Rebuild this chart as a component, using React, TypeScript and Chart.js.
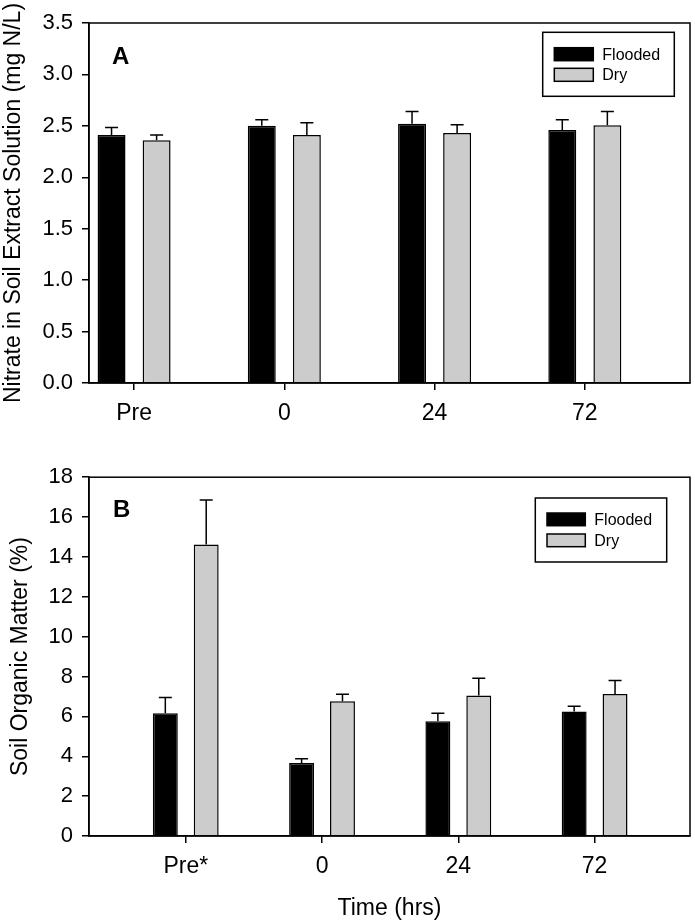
import React, { useEffect, useRef } from 'react';
import { Chart, registerables } from 'chart.js';

Chart.register(...registerables);

// ---- Data ----
const categoriesA = ['Pre', '0', '24', '72'];
const categoriesB = ['Pre*', '0', '24', '72'];
const categoryPositions = [1, 2, 3, 4];
const seriesNames = ['Flooded', 'Dry'];

const nitrateFlooded = [2.41, 2.50, 2.52, 2.46];
const nitrateFloodedErr = [0.075, 0.06, 0.12, 0.10];
const nitrateDry = [2.36, 2.41, 2.43, 2.505];
const nitrateDryErr = [0.05, 0.12, 0.08, 0.135];

const somFlooded = [6.16, 3.66, 5.76, 6.24];
const somFloodedErr = [0.79, 0.21, 0.40, 0.27];
const somDry = [14.62, 6.76, 7.05, 7.13];
const somDryErr = [2.24, 0.35, 0.86, 0.67];

const nitrateTicks = [0, 0.5, 1.0, 1.5, 2.0, 2.5, 3.0, 3.5];
const somTicks = [0, 2, 4, 6, 8, 10, 12, 14, 16, 18];

// ---- Styles ----
const FONT = "'Liberation Sans', Arial, Helvetica, sans-serif";
const FLOOD_COLOR = '#000000';
const DRY_COLOR = '#cccccc';

type PanelSpec = {
  categories: string[];
  flooded: number[];
  floodedErr: number[];
  dry: number[];
  dryErr: number[];
  yTicks: number[];
  yDecimals: number;
  yMax: number;
  xMin: number;
  xMax: number;
  yTitle: string;
  yTitlePad: number;
  xTitle?: string;
  label: string;
  labelX: number;
  labelY: number;
  padTop: number;
  xAxisHeight: number;
  catPct: number;
  barPct: number;
  legend: { x: number; y: number; w: number; h: number; sx: number; sw: number; sh: number; sy: number[]; tx: number };
  width: number;
  height: number;
};

function buildConfig(spec: PanelSpec): any {
  const errPlugin = {
    id: 'errBars',
    afterDatasetsDraw(chart: any) {
      const ctx = chart.ctx;
      const ys = chart.scales.y;
      ctx.save();
      ctx.strokeStyle = '#000';
      ctx.lineWidth = 1.5;
      chart.data.datasets.forEach((ds: any, i: number) => {
        const meta = chart.getDatasetMeta(i);
        meta.data.forEach((el: any, j: number) => {
          const v = ds.data[j].y;
          const e = ds.errors[j];
          const yt = ys.getPixelForValue(v + e);
          ctx.beginPath();
          ctx.moveTo(el.x, el.y);
          ctx.lineTo(el.x, yt);
          ctx.moveTo(el.x - 6.5, yt);
          ctx.lineTo(el.x + 6.5, yt);
          ctx.stroke();
        });
      });
      ctx.restore();
    },
  };

  const framePlugin = {
    id: 'frameLegend',
    afterDraw(chart: any) {
      const ctx = chart.ctx;
      const a = chart.chartArea;
      ctx.save();
      ctx.strokeStyle = '#000';
      ctx.lineWidth = 1.5;
      ctx.strokeRect(a.left, a.top, a.right - a.left, a.bottom - a.top);

      // legend
      const L = spec.legend;
      ctx.lineWidth = 1.5;
      ctx.strokeRect(L.x, L.y, L.w, L.h);
      chart.data.datasets.forEach((ds: any, i: number) => {
        ctx.fillStyle = ds.backgroundColor;
        ctx.fillRect(L.sx, L.sy[i], L.sw, L.sh);
        ctx.strokeStyle = '#000';
        ctx.lineWidth = 1.5;
        ctx.strokeRect(L.sx, L.sy[i], L.sw, L.sh);
        ctx.fillStyle = '#000';
        ctx.font = `16px ${FONT}`;
        ctx.textBaseline = 'middle';
        ctx.textAlign = 'left';
        ctx.fillText(ds.label, L.tx, L.sy[i] + L.sh / 2 + 1);
      });

      // panel label
      ctx.fillStyle = '#000';
      ctx.font = `bold 24px ${FONT}`;
      ctx.textBaseline = 'alphabetic';
      ctx.textAlign = 'left';
      ctx.fillText(spec.label, spec.labelX, spec.labelY);
      ctx.restore();
    },
  };

  const xTickFont = { family: FONT, size: 23 };
  const yTickFont = { family: FONT, size: 22 };
  const titleFont = { family: FONT, size: 23 };

  return {
    type: 'bar',
    data: {
      datasets: [
        {
          label: seriesNames[0],
          data: categoryPositions.map((x, i) => ({ x, y: spec.flooded[i] })),
          errors: spec.floodedErr,
          backgroundColor: FLOOD_COLOR,
          borderColor: '#000',
          borderWidth: 1.5,
          categoryPercentage: spec.catPct,
          barPercentage: spec.barPct,
        },
        {
          label: seriesNames[1],
          data: categoryPositions.map((x, i) => ({ x, y: spec.dry[i] })),
          errors: spec.dryErr,
          backgroundColor: DRY_COLOR,
          borderColor: '#000',
          borderWidth: 1.5,
          categoryPercentage: spec.catPct,
          barPercentage: spec.barPct,
        },
      ],
    },
    options: {
      responsive: false,
      animation: false,
      devicePixelRatio: 1,
      layout: { padding: { top: spec.padTop, right: 5, left: 0, bottom: 0 } },
      plugins: { legend: { display: false }, tooltip: { enabled: false }, title: { display: false } },
      scales: {
        x: {
          type: 'linear',
          min: spec.xMin,
          max: spec.xMax,
          offset: false,
          grid: {
            display: true,
            drawOnChartArea: false,
            drawTicks: true,
            tickLength: 7,
            color: '#000',
            lineWidth: 1.5,
            offset: false,
          },
          border: { display: true, color: '#000', width: 1.5 },
          afterBuildTicks: (s: any) => {
            s.ticks = categoryPositions.map((v) => ({ value: v }));
          },
          ticks: {
            callback: (v: any) => spec.categories[categoryPositions.indexOf(v)],
            color: '#000',
            font: xTickFont,
            padding: 10,
            maxRotation: 0,
            autoSkip: false,
          },
          title: spec.xTitle
            ? { display: true, text: spec.xTitle, color: '#000', font: titleFont, padding: { top: 0, bottom: 2 } }
            : { display: false },
          afterFit: (s: any) => {
            s.height = spec.xAxisHeight;
          },
        },
        y: {
          type: 'linear',
          min: 0,
          max: spec.yMax,
          grid: {
            display: true,
            drawOnChartArea: false,
            drawTicks: true,
            tickLength: 7,
            color: '#000',
            lineWidth: 1.5,
          },
          border: { display: true, color: '#000', width: 1.5 },
          afterBuildTicks: (s: any) => {
            s.ticks = spec.yTicks.map((v) => ({ value: v }));
          },
          ticks: {
            callback: (v: any) => Number(v).toFixed(spec.yDecimals),
            color: '#000',
            font: yTickFont,
            padding: 9,
            autoSkip: false,
          },
          title: {
            display: true,
            text: spec.yTitle,
            color: '#000',
            font: titleFont,
            padding: { top: spec.yTitlePad, bottom: 0 },
          },
          afterFit: (s: any) => {
            s.width = 89;
          },
        },
      },
    },
    plugins: [errPlugin, framePlugin],
  };
}

const specA: PanelSpec = {
  categories: categoriesA,
  flooded: nitrateFlooded,
  floodedErr: nitrateFloodedErr,
  dry: nitrateDry,
  dryErr: nitrateDryErr,
  yTicks: nitrateTicks,
  yDecimals: 1,
  yMax: 3.5,
  xMin: 0.7,
  xMax: 4.7,
  yTitle: 'Nitrate in Soil Extract Solution (mg N/L)',
  yTitlePad: 0,
  label: 'A',
  labelX: 112,
  labelY: 63.5,
  padTop: 23,
  xAxisHeight: 72,
  catPct: 0.6,
  barPct: 0.62,
  legend: { x: 542.7, y: 32.3, w: 131.6, h: 64, sx: 554.3, sw: 39, sh: 13, sy: [47.7, 68.3], tx: 602.3 },
  width: 695,
  height: 455,
};

const specB: PanelSpec = {
  categories: categoriesB,
  flooded: somFlooded,
  floodedErr: somFloodedErr,
  dry: somDry,
  dryErr: somDryErr,
  yTicks: somTicks,
  yDecimals: 0,
  yMax: 18,
  xMin: 0.29,
  xMax: 4.7,
  yTitle: 'Soil Organic Matter (%)',
  yTitlePad: 7,
  xTitle: 'Time (hrs)',
  label: 'B',
  labelX: 113,
  labelY: 61.7,
  padTop: 21,
  xAxisHeight: 88,
  catPct: 0.6,
  barPct: 0.61,
  legend: { x: 535.3, y: 43, w: 131.4, h: 64, sx: 547, sw: 38.3, sh: 12.7, sy: [58, 79], tx: 594.3 },
  width: 695,
  height: 469,
};

function Panel({ spec }: { spec: PanelSpec }) {
  const ref = useRef<HTMLCanvasElement | null>(null);
  useEffect(() => {
    if (!ref.current) return;
    const chart = new Chart(ref.current, buildConfig(spec));
    return () => chart.destroy();
  }, [spec]);
  return (
    <canvas
      ref={ref}
      width={spec.width}
      height={spec.height}
      style={{ display: 'block', width: spec.width, height: spec.height }}
    />
  );
}

export default function App() {
  return (
    <div style={{ position: 'absolute', left: 0, top: 0, width: 695, height: 924, background: '#fff' }}>
      <Panel spec={specA} />
      <Panel spec={specB} />
    </div>
  );
}
